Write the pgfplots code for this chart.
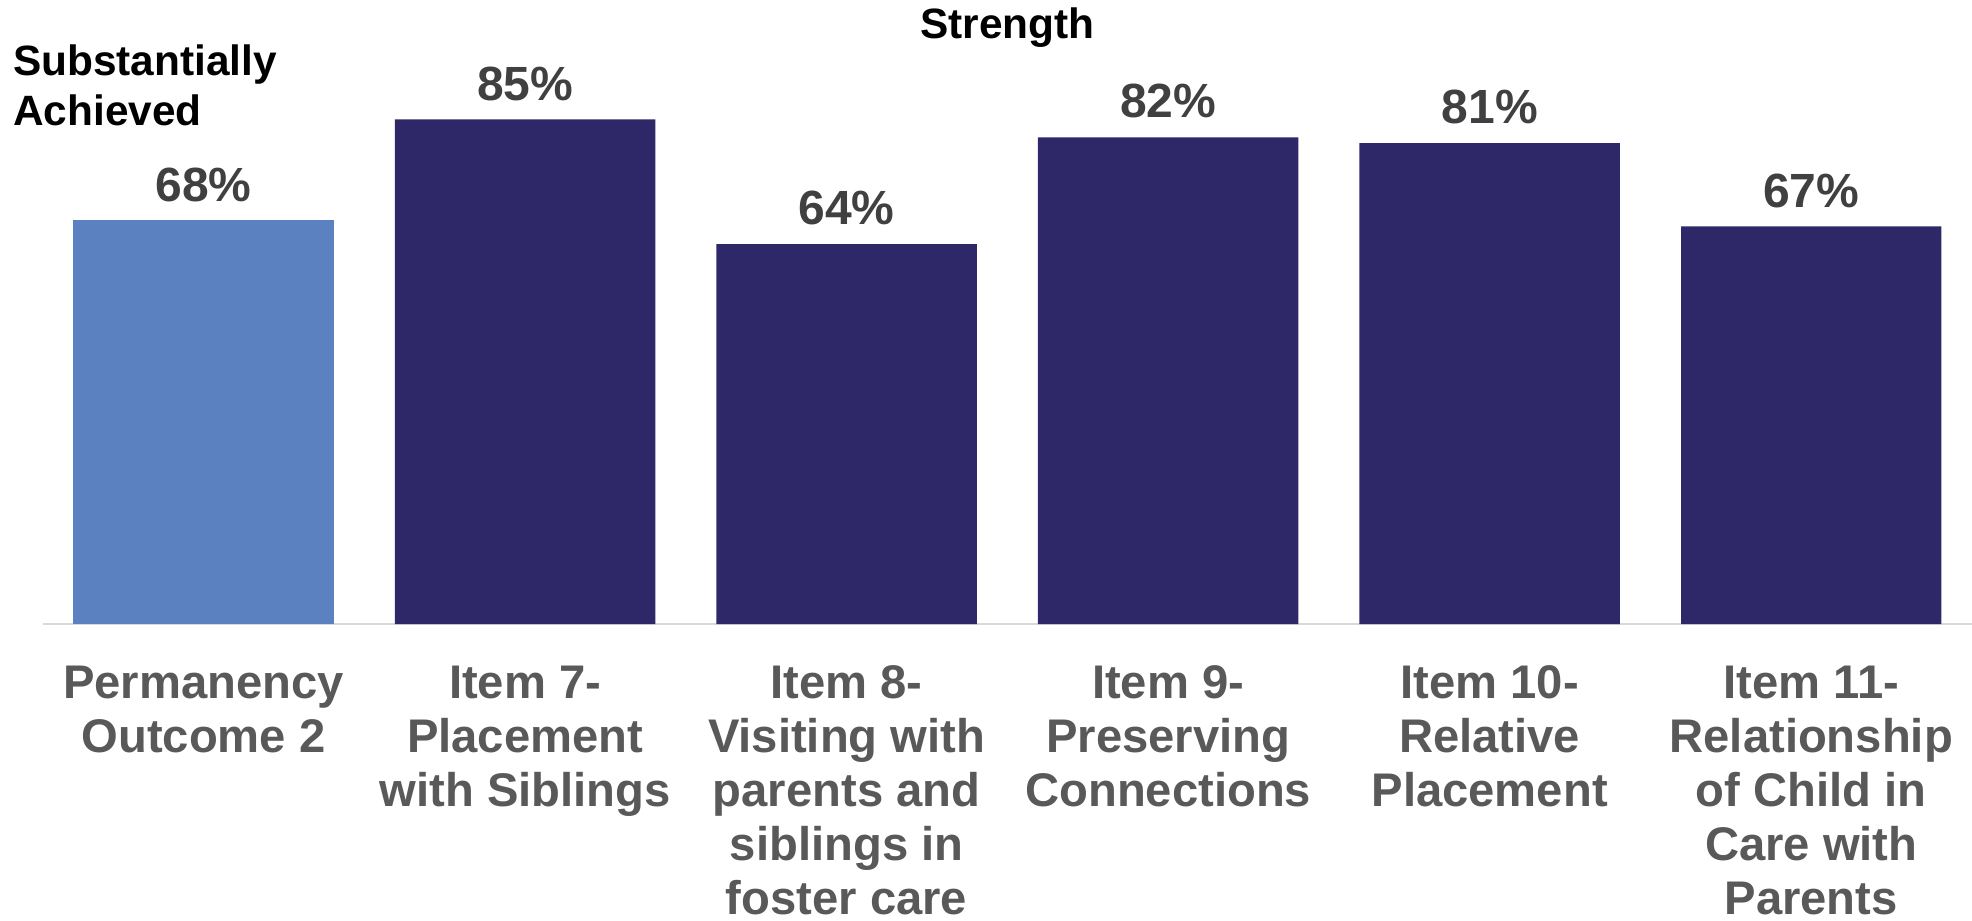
\documentclass[border=0pt]{standalone}
\usepackage{pgfplots}
\pgfplotsset{compat=1.18}
\usepackage{fontspec}
\setmainfont{Liberation Sans}
\definecolor{lightblue}{HTML}{5B81C0}
\definecolor{navy}{HTML}{2E2868}
\definecolor{valgray}{HTML}{404040}
\definecolor{labgray}{HTML}{595959}
\definecolor{axgray}{HTML}{D9D9D9}
\begin{document}
\begin{tikzpicture}
\path[use as bounding box] (-10.7pt,-74.2pt) rectangle (482.3pt,156pt);
\begin{axis}[
    width=482.3pt, height=148.4pt, scale only axis,
    xmin=-0.5, xmax=5.5, ymin=0, ymax=100,
    axis x line*=bottom,
    axis y line=none,
    x axis line style={axgray, line width=0.6pt},
    xtick={0,...,5},
    major tick length=0pt,
    xticklabels={Permanency\\Outcome 2, Item 7-\\Placement\\with Siblings,
        Item 8-\\Visiting with\\parents and\\siblings in\\foster care,
        Item 9-\\Preserving\\Connections, Item 10-\\Relative\\Placement,
        Item 11-\\Relationship\\of Child in\\Care with\\Parents},
    xticklabel style={align=center, anchor=north, inner sep=0pt, yshift=-10.2pt,
        text=labgray, font=\fontsize{11.8}{13.5}\selectfont\bfseries},
    ytick=\empty,
    /pgf/number format/assume math mode=true,
    nodes near coords={\pgfmathprintnumber{\pgfplotspointmeta}\%},
    every node near coord/.append style={anchor=south, inner sep=0pt, yshift=4.5pt,
        text=valgray, font=\fontsize{12}{14}\selectfont\bfseries},
    clip=false,
]
\addplot[ybar, bar shift=0pt, bar width=0.81, fill=lightblue, draw=none]
    coordinates {(0,68)};
\addplot[ybar, bar shift=0pt, bar width=0.81, fill=navy, draw=none]
    coordinates {(1,85) (2,64) (3,82) (4,81) (5,67)};
\end{axis}
\node[anchor=center, inner sep=0pt,
    font=\fontsize{10.6}{12.6}\selectfont\bfseries] at (241.2pt,149pt) {Strength};
\node[anchor=north west, align=left, inner sep=0pt,
    font=\fontsize{10.6}{12.6}\selectfont\bfseries] at (-7.6pt,145pt)
    {Substantially\\Achieved};
\end{tikzpicture}
\end{document}
